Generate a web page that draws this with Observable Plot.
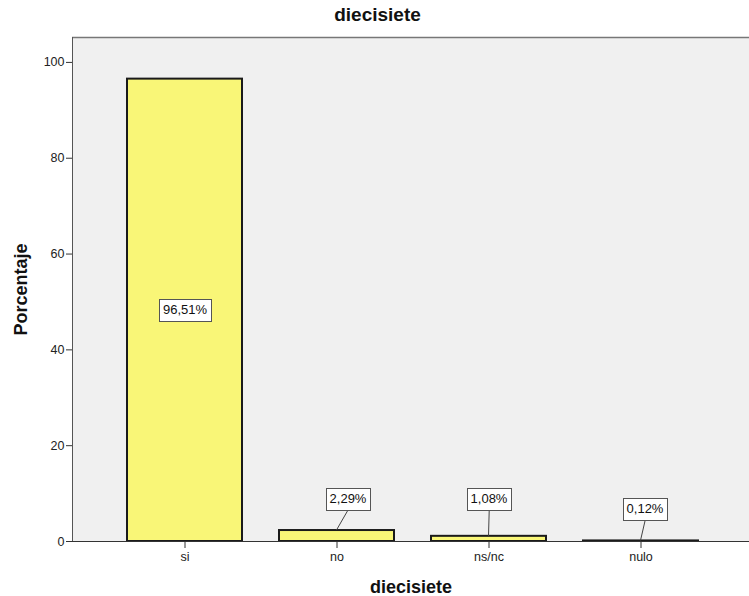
<!DOCTYPE html>
<html><head><meta charset="utf-8">
<script src="https://cdn.jsdelivr.net/npm/d3@7"></script>
<script src="https://cdn.jsdelivr.net/npm/@observablehq/plot@0.6"></script>
<style>
body{margin:0;background:#fff;overflow:hidden;width:749px;height:596px}
#title{font:bold 19px "Liberation Sans",Arial,sans-serif;text-align:center;height:30px;line-height:30px;width:749px;padding-left:6px;box-sizing:border-box;color:#111}
#chart svg{display:block;overflow:hidden}
</style></head><body>
<div id="title">diecisiete</div>
<div id="chart"></div>
<script>
// Data
const categories = ["si", "no", "ns/nc", "nulo"];
const percentages = [96.51, 2.29, 1.08, 0.12];
const valueLabels = ["96,51%", "2,29%", "1,08%", "0,12%"];
const yTicks = [0, 20, 40, 60, 80, 100];
const xTitle = "diecisiete";
const yTitle = "Porcentaje";

const data = categories.map((c, i) => ({cat: c, value: percentages[i], label: valueLabels[i]}));

// label placement (pixel offsets, layout only)
const labelShift = {"si": [0, 0], "no": [11, -32], "ns/nc": [0, -37], "nulo": [4, -32]};
const inside = d => d.value > 20;
const yMax = 105.2;

const font = '"Liberation Sans", Arial, sans-serif';
const labelMarks = data.map(d => Plot.text([d], {
  x: "cat",
  y: inside(d) ? (e => e.value / 2) : "value",
  text: "label",
  dx: labelShift[d.cat][0],
  dy: labelShift[d.cat][1],
  fill: "#111",
  fontSize: 13
}));

const plot = Plot.plot({
  width: 749,
  height: 566,
  marginTop: 7,
  marginBottom: 55,
  marginLeft: 72,
  marginRight: 0,
  style: {fontFamily: font, fontSize: "12.5px", color: "#222", background: "#fff"},
  x: {domain: categories, range: [72, 752.5], paddingInner: 0.246, paddingOuter: 0.354, label: null},
  y: {domain: [0, yMax], label: null},
  marks: [
    Plot.frame({fill: "#f0f0f0", stroke: null}),
    Plot.ruleY([yMax], {stroke: "#777", strokeWidth: 1.5}),
    Plot.barY(data, {x: "cat", y: "value", fill: "#f9f677", stroke: "#1a1a1a", strokeWidth: 2}),
    Plot.ruleY([0], {stroke: "#333", strokeWidth: 1}),
    Plot.axisY(yTicks, {tickSize: 6, tickPadding: 2, label: null, fill: "#222", stroke: "#333"}),
    Plot.axisX({tickSize: 7, tickPadding: 4, label: null, fill: "#222", stroke: "#333"}),
    Plot.text([yTitle], {frameAnchor: "left", dx: -51, rotate: -90, textAnchor: "middle", lineAnchor: "middle", fontWeight: "bold", fontSize: 18, fill: "#111"}),
    Plot.text([xTitle], {frameAnchor: "bottom", dy: 46, lineAnchor: "middle", fontWeight: "bold", fontSize: 18, fill: "#111"}),
    ...labelMarks
  ]
});
document.getElementById("chart").appendChild(plot);

const svg = d3.select(plot);
const xs = plot.scale("x"), ys = plot.scale("y");
const svgBox = plot.getBoundingClientRect();

// left border of the plot area
svg.append("line")
  .attr("x1", 72.5).attr("x2", 72.5)
  .attr("y1", ys.apply(yMax)).attr("y2", ys.apply(0))
  .attr("stroke", "#555").attr("stroke-width", 1);

// boxes around value labels + leader lines
const leaders = svg.append("g");
const boxes = svg.append("g");
const texts = svg.selectAll("text").nodes().filter(t => valueLabels.includes(t.textContent));
texts.forEach(t => {
  const d = data.find(e => e.label === t.textContent);
  const r = t.getBoundingClientRect();
  const padX = 3.5;
  const x0 = r.left - svgBox.left - padX, y0 = r.top - svgBox.top - 3;
  const w = r.width + 2 * padX, h = r.height + 7;
  if (!inside(d)) {
    const cx = xs.apply(d.cat) + xs.bandwidth / 2;
    leaders.append("line")
      .attr("x1", cx).attr("y1", ys.apply(d.value))
      .attr("x2", x0 + w / 2).attr("y2", y0 + h)
      .attr("stroke", "#444").attr("stroke-width", 1);
  }
  boxes.append("rect")
    .attr("x", Math.round(x0) + 0.5).attr("y", Math.round(y0) + 0.5)
    .attr("width", Math.round(w)).attr("height", Math.round(h))
    .attr("fill", "#fff").attr("stroke", "#555").attr("stroke-width", 1);
  boxes.node().appendChild(t.parentNode.tagName === "g" && t.parentNode.childElementCount === 1 ? t.parentNode : t);
});
</script>
</body></html>
